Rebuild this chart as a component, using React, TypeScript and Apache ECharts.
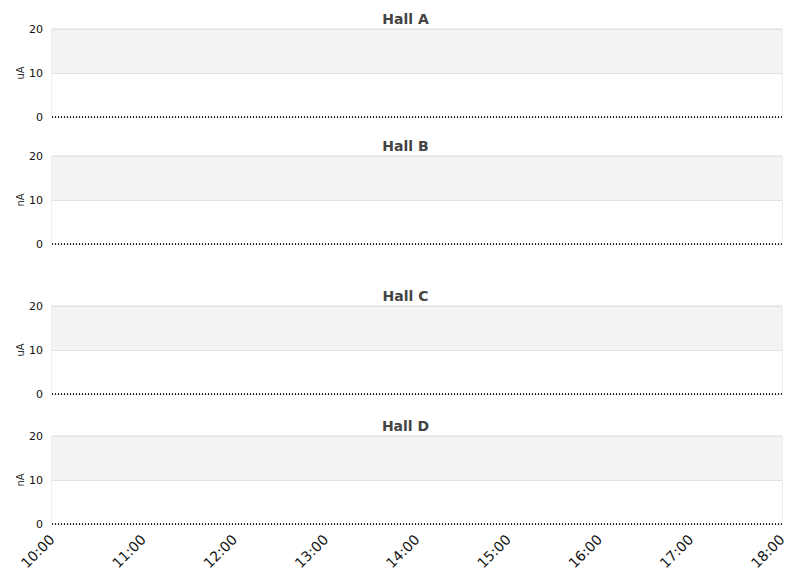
import { useEffect, useRef } from 'react';
import * as echarts from 'echarts';

const halls = ['Hall A', 'Hall B', 'Hall C', 'Hall D'];
const units = ['uA', 'nA', 'uA', 'nA'];
const sampleTimes = ['10:00', '11:00', '12:00', '13:00', '14:00', '15:00', '16:00', '17:00', '18:00'];
const hallA = [0, 0, 0, 0, 0, 0, 0, 0, 0];
const hallB = [0, 0, 0, 0, 0, 0, 0, 0, 0];
const hallC = [0, 0, 0, 0, 0, 0, 0, 0, 0];
const hallD = [0, 0, 0, 0, 0, 0, 0, 0, 0];
const yTicks = [0, 10, 20];

const day = '2024-01-01';
const toTs = (hm: string) => new Date(`${day}T${hm}:00`).getTime();

const gridTops = [29, 156, 306, 436];
const titleTops = [7, 134, 284, 414];

const App: React.FC = () => {
  const chartRef = useRef<HTMLDivElement>(null);

  useEffect(() => {
    document.body.style.margin = '0';
    if (!chartRef.current) return;
    const chart = echarts.init(chartRef.current, undefined, { renderer: 'svg' });
    const seriesValues = [hallA, hallB, hallC, hallD];

    const option = {
      animation: false,
      textStyle: { fontFamily: 'DejaVu Sans' },
      title: halls.map((name, i) => ({
        text: name,
        left: 'center',
        top: titleTops[i],
        textStyle: { fontSize: 14, fontWeight: 'bold', color: '#444', fontFamily: 'DejaVu Sans' },
      })),
      grid: gridTops.map((top) => ({
        left: 52,
        right: 29,
        top,
        height: 88,
        show: true,
        borderColor: '#dddddd',
        borderWidth: 1,
        backgroundColor: 'transparent',
      })),
      xAxis: halls.map((_, i) => ({
        type: 'time',
        gridIndex: i,
        min: toTs(sampleTimes[0]),
        max: toTs(sampleTimes[sampleTimes.length - 1]),
        interval: 3600 * 1000,
        axisLine: { show: false },
        axisTick: { show: false },
        splitLine: { show: false },
        axisLabel: {
          show: i === halls.length - 1,
          rotate: 45,
          fontSize: 14,
          color: '#111',
          margin: 13,
          formatter: '{HH}:{mm}',
          hideOverlap: false,
          showMinLabel: true,
          showMaxLabel: true,
        },
      })),
      yAxis: halls.map((_, i) => ({
        type: 'value',
        gridIndex: i,
        min: yTicks[0],
        max: yTicks[yTicks.length - 1],
        interval: 10,
        name: units[i],
        nameLocation: 'middle',
        nameGap: 27,
        nameMoveOverlap: false,
        nameRotate: 90,
        nameTextStyle: { fontSize: 10, color: '#333' },
        axisLine: { show: false },
        axisTick: { show: false },
        axisLabel: { fontSize: 11, color: '#111', margin: 9 },
        splitLine: { lineStyle: { color: '#e2e2e2', width: 1 } },
        splitArea: { show: true, areaStyle: { color: ['#ffffff', '#f3f3f3'] } },
      })),
      series: seriesValues.map((vals, i) => ({
        name: halls[i],
        type: 'line',
        xAxisIndex: i,
        yAxisIndex: i,
        data: sampleTimes.map((t, k) => [toTs(t), vals[k]]),
        symbol: 'none',
        lineStyle: { color: '#222', width: 2, type: [1, 2] },
        z: 5,
      })),
    };

    chart.setOption(option as any);
    return () => chart.dispose();
  }, []);

  return <div ref={chartRef} style={{ width: 811, height: 578 }} />;
};

export default App;
